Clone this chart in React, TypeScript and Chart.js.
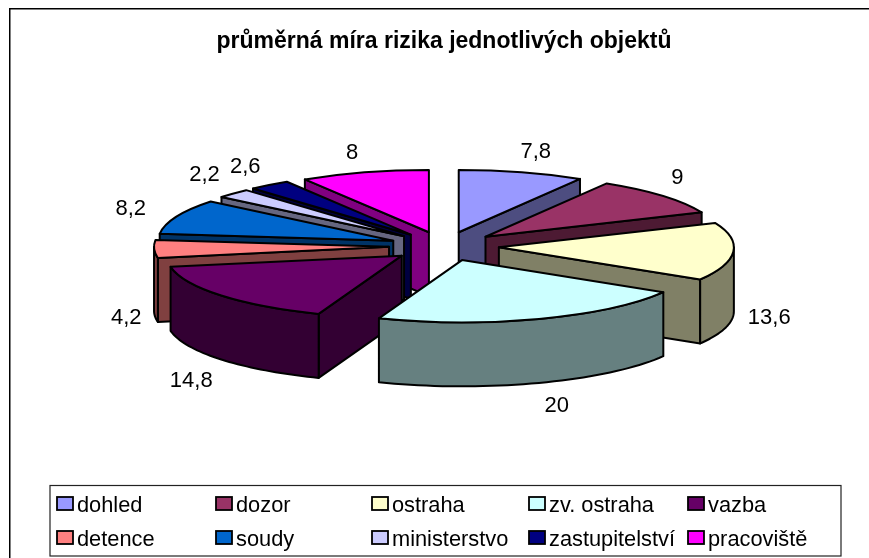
import React, { useEffect, useRef } from "react";
import { Chart, registerables } from "chart.js";

Chart.register(...registerables);

const chartTitle = "průměrná míra rizika jednotlivých objektů";
const categories = ["dohled", "dozor", "ostraha", "zv. ostraha", "vazba", "detence", "soudy", "ministerstvo", "zastupitelství", "pracoviště"];
const riskValues = [7.8, 9, 13.6, 20, 14.8, 4.2, 8.2, 2.2, 2.6, 8];
const sliceColours = ["#9999FF", "#993366", "#FFFFCC", "#CCFFFF", "#660066", "#FF8080", "#0066CC", "#CCCCFF", "#000080", "#FF00FF"];

const FONT = "'Liberation Sans', Arial, sans-serif";
const SQUASH = 0.265;
const DEPTH = 64;
const EXPLODE = 55;
const RADIUS = 235;
const LABEL_RX = 320;
const LABEL_RY = 103;
const legendColumns = [57, 216, 372, 529, 688];
const legendRows = [497, 531];
const labelNudgeX = [6, -8, 6, 8, -7, 2, -18, -7, -6, -4];
const labelNudgeY = [5, -1, 0, -2, 5, 4, 2, -1, 3, 6];

function darken(hex: string) {
  const n = parseInt(hex.slice(1), 16);
  const c = [(n >> 16) & 255, (n >> 8) & 255, n & 255].map((v) => Math.round(v * 0.5));
  return `rgb(${c[0]},${c[1]},${c[2]})`;
}

function pie3dDraw(chart: any) {
  const ctx: CanvasRenderingContext2D = chart.ctx;
  const meta = chart.getDatasetMeta(0);
  const arcs = meta.data.map((el: any, i: number) => {
    const p = el.getProps(["x", "y", "startAngle", "endAngle", "outerRadius"], true);
    const mid = (p.startAngle + p.endAngle) / 2;
    return {
      el,
      i,
      ...p,
      mid,
      cx: p.x + Math.cos(mid) * EXPLODE,
      cy: p.y + Math.sin(mid) * EXPLODE * SQUASH,
      colour: sliceColours[i],
      py: p.y,
      dx: Math.cos(mid) * EXPLODE,
      dy: Math.sin(mid) * EXPLODE,
    };
  });
  arcs.sort((a: any, b: any) => Math.sin(a.mid) - Math.sin(b.mid));

  ctx.save();
  ctx.lineWidth = 2;
  ctx.strokeStyle = "#000";
  ctx.lineJoin = "round";
  for (const a of arcs) {
    const r = a.outerRadius;
    const pt = (t: number) => [a.cx + Math.cos(t) * r, a.cy + Math.sin(t) * r * SQUASH];
    const side = darken(a.colour);
    const radial = (t: number) => {
      const [x, y] = pt(t);
      ctx.beginPath();
      ctx.moveTo(a.cx, a.cy);
      ctx.lineTo(x, y);
      ctx.lineTo(x, y + DEPTH);
      ctx.lineTo(a.cx, a.cy + DEPTH);
      ctx.closePath();
      ctx.fillStyle = side;
      ctx.fill();
      ctx.stroke();
    };
    // radial faces that look towards the viewer
    if (Math.cos(a.startAngle) < 0) radial(a.startAngle);
    if (Math.cos(a.endAngle) > 0) radial(a.endAngle);
    // outer rim, only the part on the near half of the ellipse
    const from = Math.max(a.startAngle, 0);
    const to = Math.min(a.endAngle, Math.PI);
    if (to > from) {
      ctx.beginPath();
      const n = 40;
      for (let k = 0; k <= n; k++) {
        const [x, y] = pt(from + ((to - from) * k) / n);
        if (k === 0) ctx.moveTo(x, y);
        else ctx.lineTo(x, y);
      }
      for (let k = n; k >= 0; k--) {
        const [x, y] = pt(from + ((to - from) * k) / n);
        ctx.lineTo(x, y + DEPTH);
      }
      ctx.closePath();
      ctx.fillStyle = side;
      ctx.fill();
      ctx.stroke();
    }
    // top face: the library's own arc element, flattened
    ctx.save();
    ctx.translate(a.dx, a.py);
    ctx.scale(1, SQUASH);
    ctx.translate(0, -a.py + a.dy);
    a.el.draw(ctx);
    ctx.beginPath();
    ctx.moveTo(a.x, a.y);
    ctx.arc(a.x, a.y, r, a.startAngle, a.endAngle);
    ctx.closePath();
    ctx.restore();
    ctx.stroke();
  }
  ctx.restore();
}

function drawDecor(chart: any) {
  const ctx: CanvasRenderingContext2D = chart.ctx;
  const meta = chart.getDatasetMeta(0);
  ctx.save();
  // frame
  ctx.fillStyle = "#000";
  ctx.fillRect(9, 8, chart.width - 9, 1.5);
  ctx.fillRect(9, 8, 1.5, chart.height - 8);
  // value labels
  ctx.font = `22px ${FONT}`;
  ctx.textAlign = "center";
  ctx.textBaseline = "middle";
  ctx.fillStyle = "#000";
  meta.data.forEach((el: any, i: number) => {
    const p = el.getProps(["x", "y", "startAngle", "endAngle"], true);
    const mid = (p.startAngle + p.endAngle) / 2;
    const extra = Math.sin(mid) > -0.1 ? DEPTH : 0;
    const x = p.x + Math.cos(mid) * LABEL_RX + labelNudgeX[i];
    const y = p.y + Math.sin(mid) * LABEL_RY + extra + labelNudgeY[i];
    ctx.fillText(String(riskValues[i]).replace(".", ","), x, y);
  });
  // legend
  ctx.strokeStyle = "#222";
  ctx.lineWidth = 1.2;
  ctx.strokeRect(50, 485.5, 791, 70.5);
  ctx.font = `21.8px ${FONT}`;
  ctx.textAlign = "left";
  ctx.textBaseline = "alphabetic";
  categories.forEach((label, i) => {
    const x = legendColumns[i % 5];
    const y = legendRows[Math.floor(i / 5)];
    ctx.fillStyle = sliceColours[i];
    ctx.fillRect(x, y, 16, 13);
    ctx.strokeStyle = "#000";
    ctx.lineWidth = 1.8;
    ctx.strokeRect(x, y, 16, 13);
    ctx.fillStyle = "#000";
    ctx.fillText(label, x + 20, y + 15);
  });
  ctx.restore();
}

const pie3d = {
  id: "pie3d",
  beforeDatasetDraw(chart: any) {
    pie3dDraw(chart);
    return false;
  },
  afterDraw(chart: any) {
    drawDecor(chart);
  },
};

export default function App() {
  const ref = useRef<HTMLCanvasElement>(null);
  useEffect(() => {
    const chart = new Chart(ref.current as HTMLCanvasElement, {
      type: "pie",
      data: {
        labels: categories,
        datasets: [{ data: riskValues, backgroundColor: sliceColours, borderWidth: 0, radius: RADIUS }],
      },
      options: {
        animation: false,
        responsive: false,
        layout: { padding: { left: 19, top: 0, right: 0, bottom: 121 } },
        plugins: {
          legend: { display: false },
          tooltip: { enabled: false },
          title: {
            display: true,
            text: chartTitle,
            color: "#000",
            font: { family: FONT, size: 23, weight: "bold", lineHeight: 1.2 },
            padding: { top: 28, bottom: 0 },
          },
        },
      },
      plugins: [pie3d],
    } as any);
    return () => chart.destroy();
  }, []);
  return (
    <div style={{ position: "absolute", left: 0, top: 0, width: 869, height: 558, background: "#fff" }}>
      <canvas ref={ref} width={869} height={558} style={{ display: "block" }} />
    </div>
  );
}
